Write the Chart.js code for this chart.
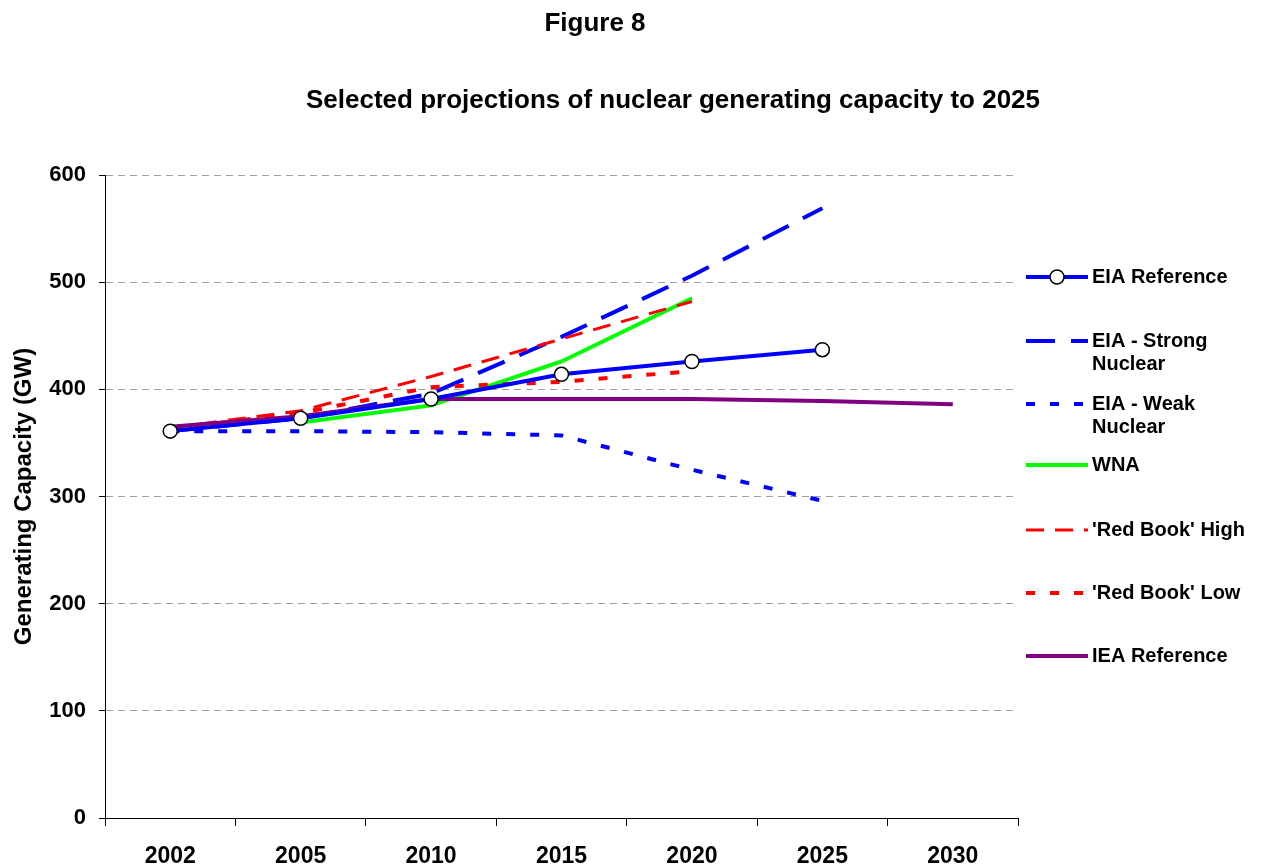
<!DOCTYPE html>
<html>
<head>
<meta charset="utf-8">
<title>Figure 8</title>
<script src="https://cdn.jsdelivr.net/npm/chart.js@4.4.1/dist/chart.umd.min.js"></script>
<style>
  body { margin: 0; background: #fff; }
  #chart { display: block; }
</style>
</head>
<body>
<canvas id="chart" width="1261" height="866"></canvas>
<script>
// Chart data (GW)
const years = ['2002', '2005', '2010', '2015', '2020', '2025', '2030'];
const eiaReference = [361, 373, 391, 414, 426, 437, null];
const eiaStrong = [361, 373, 396, 449, 506, 569, null];
const eiaWeak = [361, 361, 360, 357, 325, 296, null];
const wna = [null, 369, 385, 426, 485, null, null];
const redBookHigh = [364, 380, 412, 447, 482, null, null];
const redBookLow = [363, 378, 402, 407, 417, null, null];
const ieaReference = [365, 375, 391, 391, 391, 389, 386];
const yTicks = [0, 100, 200, 300, 400, 500, 600];

const FONT = 'Arial, "Liberation Sans", sans-serif';

// legend text, multi-line where the original wraps
const legendText = [
    ['EIA Reference'],
    ['EIA - Strong', 'Nuclear'],
    ['EIA - Weak', 'Nuclear'],
    ['WNA'],
    ["'Red Book' High"],
    ["'Red Book' Low"],
    ['IEA Reference']
];
const legendY = [277, 341, 404, 465, 530, 593, 656];

// titles + legend drawn on the canvas
const figureText = {
    id: 'figureText',
    afterDraw(chart) {
        const ctx = chart.ctx;
        ctx.save();
        ctx.fillStyle = '#000';
        ctx.textAlign = 'center';
        ctx.textBaseline = 'middle';
        ctx.font = 'bold 26px ' + FONT;
        ctx.fillText('Figure 8', 595, 24);
        ctx.font = 'bold 26px ' + FONT;
        ctx.fillText('Selected projections of nuclear generating capacity to 2025', 673, 101);

        ctx.font = 'bold 20px ' + FONT;
        ctx.textAlign = 'left';
        chart.data.datasets.forEach((ds, i) => {
            const y = legendY[i];
            ctx.save();
            ctx.strokeStyle = ds.borderColor;
            ctx.lineWidth = ds.borderWidth;
            ctx.setLineDash(ds.borderDash || []);
            ctx.beginPath();
            ctx.moveTo(1026, y);
            ctx.lineTo(1088, y);
            ctx.stroke();
            ctx.restore();
            if (ds.pointRadius > 0) {
                ctx.beginPath();
                ctx.arc(1057, y, ds.pointRadius, 0, Math.PI * 2);
                ctx.fillStyle = ds.pointBackgroundColor;
                ctx.fill();
                ctx.lineWidth = ds.pointBorderWidth;
                ctx.strokeStyle = ds.pointBorderColor;
                ctx.stroke();
            }
            ctx.fillStyle = '#000';
            legendText[i].forEach((line, j) => {
                ctx.fillText(line, 1092, y + j * 23);
            });
        });
        ctx.restore();
    }
};

function series(label, data, color, width, dash, order) {
    return {
        label: label,
        data: data,
        borderColor: color,
        backgroundColor: color,
        borderWidth: width,
        borderDash: dash,
        pointRadius: 0,
        pointHoverRadius: 0,
        tension: 0,
        fill: false,
        spanGaps: false,
        order: order
    };
}

const refSeries = series('EIA Reference', eiaReference, '#0000ff', 4, [], 0);
refSeries.pointRadius = 7;
refSeries.pointBackgroundColor = '#ffffff';
refSeries.pointBorderColor = '#000000';
refSeries.pointBorderWidth = 1.5;

let ctx = document.getElementById('chart').getContext('2d');
let chart = new Chart(ctx, {
    type: 'line',
    data: {
        labels: years,
        datasets: [
            refSeries,
            series('EIA - Strong Nuclear', eiaStrong, '#0000ff', 4, [29, 16], 6),
            series('EIA - Weak Nuclear', eiaWeak, '#0000ff', 4, [9, 15], 5),
            series('WNA', wna, '#00ff00', 4, [], 4),
            series("'Red Book' High", redBookHigh, '#ff0000', 3, [18, 11], 3),
            series("'Red Book' Low", redBookLow, '#ff0000', 4, [9, 15], 2),
            series('IEA Reference', ieaReference, '#800080', 4, [], 1)
        ]
    },
    options: {
        responsive: false,
        animation: false,
        layout: { padding: { left: 0, top: 175, right: 243, bottom: 0 } },
        plugins: {
            legend: { display: false },
            title: { display: false },
            tooltip: { enabled: false }
        },
        scales: {
            x: {
                offset: true,
                grid: {
                    offset: true,
                    drawOnChartArea: false,
                    drawTicks: true,
                    tickLength: 8,
                    color: '#000',
                    tickColor: '#000'
                },
                border: { display: true, color: '#000', width: 1 },
                ticks: {
                    color: '#000',
                    font: { family: FONT, size: 23, weight: 'bold' },
                    padding: 17,
                    maxRotation: 0,
                    autoSkip: false
                },
                afterFit: (s) => { s.height = 48; }
            },
            y: {
                min: 0,
                max: 600,
                afterBuildTicks: (s) => { s.ticks = yTicks.map(v => ({ value: v })); },
                grid: {
                    color: '#a0a0a0',
                    tickLength: 6,
                    tickColor: '#000',
                    tickBorderDash: [],
                    lineWidth: 1
                },
                border: { display: true, color: '#000', width: 1, dash: [7, 5] },
                ticks: {
                    color: '#000',
                    font: { family: FONT, size: 22, weight: 'bold' },
                    padding: 13
                },
                title: {
                    display: true,
                    text: 'Generating Capacity (GW)',
                    color: '#000',
                    font: { family: FONT, size: 24, weight: 'bold' },
                    padding: { top: 10, bottom: 0 }
                },
                afterFit: (s) => { s.width = 105; }
            }
        }
    },
    plugins: [figureText]
});
</script>
</body>
</html>
